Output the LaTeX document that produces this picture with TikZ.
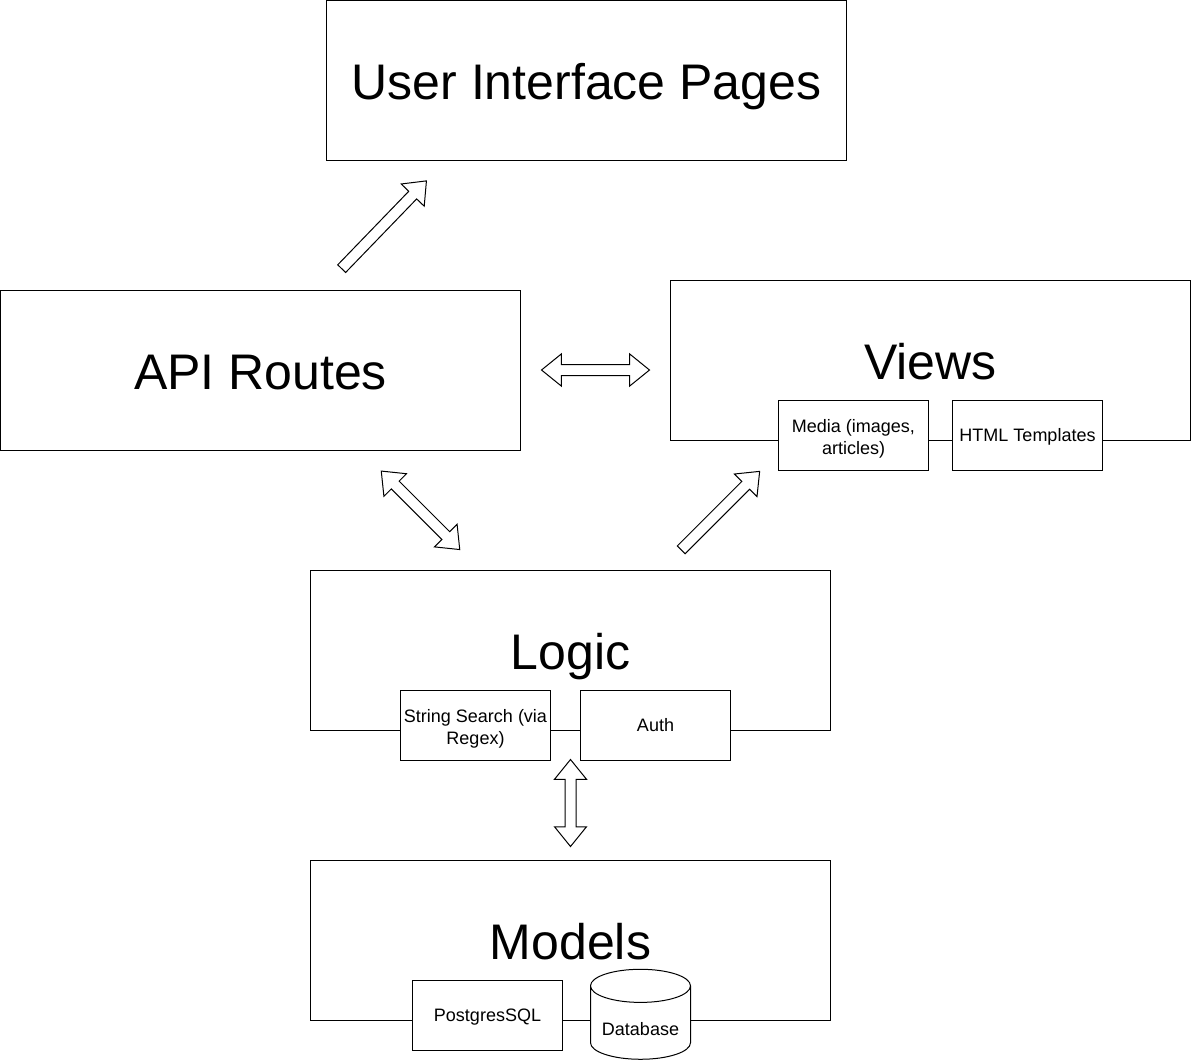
\documentclass[tikz,border=0pt]{standalone}
\usepackage{fontspec}
\setmainfont{Liberation Sans}
\usetikzlibrary{backgrounds}
\usetikzlibrary{shapes.arrows,shapes.geometric}

\begin{document}
\begin{tikzpicture}[
    x=1pt,y=-1pt,
    show background rectangle,
    tight background=0,
    background rectangle/.style={fill=white},
    layerbox/.style={draw,line width=1pt,minimum width=520pt,minimum height=160pt,inner sep=0pt,
        font=\fontsize{50}{60}\selectfont,text height=50pt,text depth=12pt},
    partbox/.style={draw,fill=white,line width=1pt,minimum width=150pt,minimum height=70pt,inner sep=0pt,
        font=\fontsize{18}{21.6}\selectfont,align=center,text height=15.5pt,text depth=4pt},
    oneway/.style={draw,line width=1pt,single arrow,inner sep=0pt,inner ysep=5pt,
        single arrow head extend=10.5pt,single arrow tip angle=78},
    twoway/.style={draw,line width=1pt,double arrow,inner sep=0pt,inner ysep=5pt,
        double arrow head extend=10.5pt,double arrow tip angle=78},
 ]
    \useasboundingbox (0,0) rectangle (1191,1061);

    \node[layerbox] (Pages) at (586.5,80.5) {User Interface Pages};
    \node[layerbox] (Routes) at (260.5,370.5) {API Routes};
    \node[layerbox,text height=60pt,text depth=22pt] (Views) at (930.5,360.5) {Views};
    \node[layerbox,text height=60pt,text depth=22pt] (Logic) at (570.5,650.5) {Logic};
    \node[layerbox,text height=60pt,text depth=22pt] (Models) at (570.5,940.5) {Models};

    \node[partbox,text height=41pt] (Media) at (853.5,435.5) {Media (images,\\articles)};
    \node[partbox] (Templates) at (1027.5,435.5) {HTML Templates};
    \node[partbox,text height=41pt] (Search) at (475.5,725.5) {String Search (via\\Regex)};
    \node[partbox] (Auth) at (655.5,725.5) {Auth};
    \node[partbox] (Postgres) at (487.5,1015.5) {PostgresSQL};
    \node[draw,fill=white,line width=1pt,cylinder,shape border rotate=90,aspect=0.43,
        minimum width=100pt,minimum height=90pt,inner sep=0pt,text height=25pt,text depth=0pt,
        font=\fontsize{18}{21.6}\selectfont] (Database) at (640.5,1022.8) {Database};

    \node[oneway,rotate=46,minimum height=122pt] (ToPages) at (381.7,227.2) {};
    \node[twoway,minimum height=108pt] (RoutesViews) at (595.5,370) {};
    \node[twoway,rotate=-45,minimum height=111pt] (RoutesLogic) at (420.5,510.3) {};
    \node[oneway,rotate=45,minimum height=111pt] (ToViews) at (718,513) {};
    \node[twoway,rotate=90,minimum height=87pt] (LogicModels) at (570.5,803) {};

\end{tikzpicture}
\end{document}
